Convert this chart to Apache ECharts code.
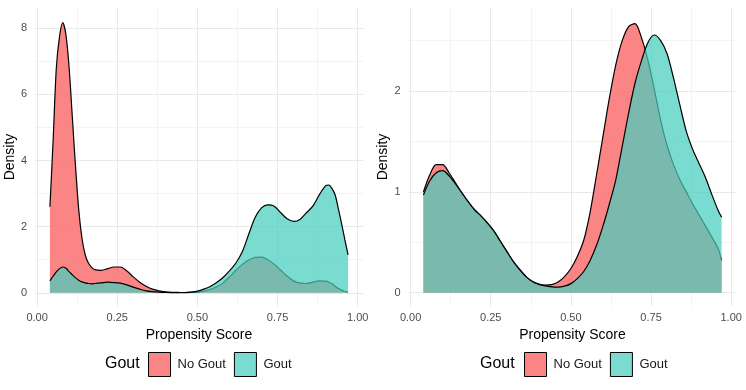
<!DOCTYPE html>
<html>
<head>
<meta charset="utf-8">
<script src="https://cdn.jsdelivr.net/npm/echarts@6/dist/echarts.min.js"></script>
<style>
  html, body { margin: 0; padding: 0; background: #fff; }
  #chart { width: 746px; height: 390px; }
</style>
</head>
<body>
<div id="chart"></div>
<script>
(function() {
  'use strict';

  // ========== Data ==========
  var leftX = [0.04, 0.05, 0.06, 0.07, 0.08, 0.09, 0.10, 0.11, 0.12, 0.13, 0.14, 0.15, 0.16, 0.17, 0.18,
    0.20, 0.22, 0.24, 0.26, 0.28, 0.30, 0.32, 0.34, 0.36, 0.38, 0.40, 0.42, 0.44, 0.46, 0.48,
    0.50, 0.52, 0.54, 0.56, 0.58, 0.60, 0.62, 0.64, 0.66, 0.68, 0.70, 0.72, 0.74, 0.76, 0.78,
    0.80, 0.82, 0.84, 0.86, 0.88, 0.90, 0.91, 0.92, 0.93, 0.94, 0.95, 0.96, 0.97];
  var leftNoGout = [2.6, 4.6, 6.8, 7.75, 8.17, 7.8, 6.8, 5.3, 3.8, 2.5, 1.65, 1.15, 0.9, 0.77, 0.7,
    0.68, 0.73, 0.78, 0.78, 0.66, 0.48, 0.32, 0.2, 0.11, 0.06, 0.03, 0.015, 0.01, 0.005, 0.01,
    0.02, 0.05, 0.1, 0.18, 0.3, 0.48, 0.68, 0.86, 0.99, 1.07, 1.08, 1.0, 0.86, 0.68, 0.5,
    0.36, 0.29, 0.28, 0.32, 0.36, 0.35, 0.32, 0.27, 0.2, 0.13, 0.08, 0.04, 0.02];
  var leftGout = [0.36, 0.5, 0.63, 0.73, 0.78, 0.74, 0.64, 0.54, 0.45, 0.38, 0.33, 0.3, 0.28, 0.27, 0.28,
    0.3, 0.32, 0.31, 0.29, 0.24, 0.17, 0.11, 0.06, 0.035, 0.02, 0.01, 0.005, 0.005, 0.008, 0.02,
    0.05, 0.11, 0.19, 0.31, 0.46, 0.66, 0.9, 1.24, 1.77, 2.28, 2.57, 2.66, 2.62, 2.42, 2.24,
    2.16, 2.22, 2.42, 2.62, 2.96, 3.24, 3.26, 3.15, 2.95, 2.52, 2.08, 1.6, 1.15];

  var rightX = [0.04, 0.06, 0.08, 0.10, 0.12, 0.14, 0.16, 0.18, 0.20, 0.22, 0.24, 0.26, 0.28, 0.30,
    0.32, 0.34, 0.36, 0.38, 0.40, 0.42, 0.44, 0.46, 0.48, 0.50, 0.52, 0.54, 0.56, 0.58, 0.60,
    0.62, 0.64, 0.66, 0.68, 0.70, 0.72, 0.74, 0.76, 0.78, 0.80, 0.82, 0.84, 0.86, 0.88, 0.90,
    0.92, 0.94, 0.96, 0.97];
  var rightNoGout = [1.0, 1.17, 1.27, 1.27, 1.19, 1.09, 0.99, 0.9, 0.82, 0.76, 0.69, 0.61, 0.51, 0.41,
    0.31, 0.23, 0.16, 0.11, 0.085, 0.076, 0.08, 0.105, 0.16, 0.24, 0.36, 0.52, 0.8, 1.17, 1.55,
    1.93, 2.26, 2.5, 2.64, 2.67, 2.53, 2.31, 2.02, 1.71, 1.46, 1.27, 1.12, 1.0, 0.88, 0.77,
    0.66, 0.55, 0.43, 0.32];
  var rightGout = [0.97, 1.11, 1.19, 1.21, 1.16, 1.08, 0.99, 0.9, 0.82, 0.76, 0.69, 0.61, 0.51, 0.41,
    0.31, 0.23, 0.16, 0.11, 0.083, 0.068, 0.058, 0.055, 0.065, 0.09, 0.14, 0.21, 0.32, 0.47, 0.66,
    0.88, 1.12, 1.45, 1.78, 2.08, 2.3, 2.48, 2.556, 2.5, 2.37, 2.13, 1.86, 1.6, 1.42, 1.28,
    1.14, 0.97, 0.81, 0.75];

  var xTicks = [0, 0.25, 0.5, 0.75, 1];
  var xMinor = [0.125, 0.375, 0.625, 0.875];
  var leftYTicks = [0, 2, 4, 6, 8];
  var leftYMinor = [1, 3, 5, 7];
  var rightYTicks = [0, 1, 2];
  var rightYMinor = [0.5, 1.5, 2.5];

  var groups = ['No Gout', 'Gout'];

  // ========== Style ==========
  var font = '"Liberation Sans", Arial, Helvetica, sans-serif';
  var tickColor = '#4d4d4d';
  var gridMajor = '#e8e8e8';
  var gridMinor = '#f3f3f3';
  var fills = ['rgba(250,110,110,0.85)', 'rgba(70,205,190,0.72)'];

  function pairs(xs, ys) {
    return xs.map(function(x, i) { return [x, ys[i]]; });
  }

  function xAxes(grid) {
    return [{
      type: 'value', gridIndex: grid, min: -0.0065, max: 1.0165,
      name: 'Propensity Score', nameLocation: 'middle', nameGap: 22,
      nameTextStyle: { color: '#000', fontSize: 14, fontFamily: font },
      axisLine: { show: false },
      axisTick: { show: false, customValues: xTicks },
      axisLabel: {
        customValues: xTicks, color: tickColor, fontSize: 11, fontFamily: font, margin: 6,
        formatter: function(v) { return v.toFixed(2); }
      },
      splitLine: { show: true, lineStyle: { color: gridMajor, width: 1 } }
    }, {
      type: 'value', gridIndex: grid, min: -0.0065, max: 1.0165,
      axisLine: { show: false },
      axisTick: { show: false, customValues: xMinor },
      axisLabel: { show: false, customValues: xMinor },
      splitLine: { show: true, lineStyle: { color: gridMinor, width: 1 } }
    }];
  }

  function yAxes(grid, min, max, major, minor) {
    return [{
      type: 'value', gridIndex: grid, min: min, max: max,
      name: 'Density', nameLocation: 'middle', nameGap: 18,
      nameTextStyle: { color: '#000', fontSize: 14, fontFamily: font },
      axisLine: { show: false },
      axisTick: { show: false, customValues: major },
      axisLabel: { customValues: major, color: tickColor, fontSize: 11, fontFamily: font, margin: 8 },
      splitLine: { show: true, lineStyle: { color: gridMajor, width: 1 } }
    }, {
      type: 'value', gridIndex: grid, min: min, max: max,
      axisLine: { show: false },
      axisTick: { show: false, customValues: minor },
      axisLabel: { show: false, customValues: minor },
      splitLine: { show: true, lineStyle: { color: gridMinor, width: 1 } }
    }];
  }

  // later groups sit above earlier ones, so the teal fill tints the red outline
  function density(name, i, xIdx, yIdx, data) {
    return {
      name: name, type: 'line', xAxisIndex: xIdx, yAxisIndex: yIdx,
      data: data, showSymbol: false, smooth: 0.3, z: 2 + i,
      itemStyle: { color: fills[i] },
      lineStyle: { color: '#000', width: 1.2 },
      areaStyle: { color: fills[i], opacity: 1 },
      emphasis: { disabled: true }
    };
  }

  function legend(left) {
    return {
      left: left, top: 352, orient: 'horizontal', padding: 0,
      icon: 'rect', itemWidth: 22, itemHeight: 24, itemGap: 8,
      textStyle: { color: '#1a1a1a', fontSize: 13, fontFamily: font, padding: [0, 0, 0, 2] },
      data: groups.map(function(g, i) {
        return { name: g, itemStyle: { color: fills[i], borderColor: '#000', borderWidth: 1 } };
      })
    };
  }

  var chart = echarts.init(document.getElementById('chart'), null, { renderer: 'canvas' });
  chart.setOption({
    animation: false,
    backgroundColor: '#fff',
    grid: [
      { left: 35, right: 383, top: 8, bottom: 84 },
      { left: 408.5, right: 9.5, top: 8, bottom: 84 }
    ],
    xAxis: xAxes(0).concat(xAxes(1)),
    yAxis: yAxes(0, -0.4, 8.614, leftYTicks, leftYMinor).concat(yAxes(1, -0.132, 2.824, rightYTicks, rightYMinor)),
    legend: [legend(148), legend(524)],
    graphic: [
      { type: 'text', left: 105, top: 356, style: { text: 'Gout', fill: '#000', fontSize: 16, fontFamily: font } },
      { type: 'text', left: 480, top: 356, style: { text: 'Gout', fill: '#000', fontSize: 16, fontFamily: font } }
    ],
    series: [
      density('No Gout', 0, 0, 0, pairs(leftX, leftNoGout)),
      density('Gout', 1, 0, 0, pairs(leftX, leftGout)),
      density('No Gout', 0, 2, 2, pairs(rightX, rightNoGout)),
      density('Gout', 1, 2, 2, pairs(rightX, rightGout))
    ]
  });
  window.addEventListener('resize', function() { chart.resize(); });
})();
</script>
</body>
</html>
